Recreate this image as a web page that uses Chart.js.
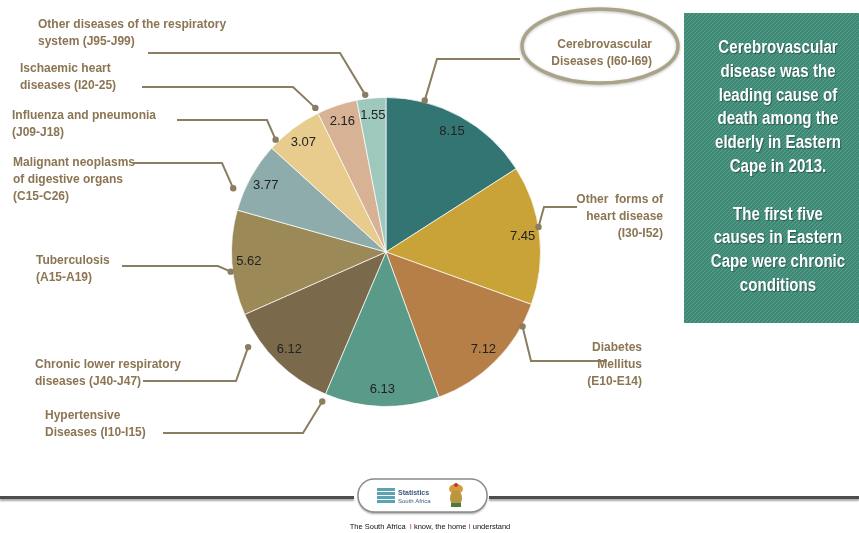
<!DOCTYPE html>
<html>
<head>
<meta charset="utf-8">
<script src="https://cdn.jsdelivr.net/npm/chart.js@4/dist/chart.umd.min.js"></script>
<style>
  html, body { margin: 0; padding: 0; background: #ffffff; }
  #wrap { position: relative; width: 859px; height: 533px; }
</style>
</head>
<body>
<div id="wrap"><canvas id="causesPie" width="859" height="533"></canvas></div>
<script>
// Leading causes of death among the elderly, Eastern Cape 2013 (%)
const causes = [
  'Cerebrovascular Diseases (I60-I69)',
  'Other forms of heart disease (I30-I52)',
  'Diabetes Mellitus (E10-E14)',
  'Hypertensive Diseases (I10-I15)',
  'Chronic lower respiratory diseases (J40-J47)',
  'Tuberculosis (A15-A19)',
  'Malignant neoplasms of digestive organs (C15-C26)',
  'Influenza and pneumonia (J09-J18)',
  'Ischaemic heart diseases (I20-25)',
  'Other diseases of the respiratory system (J95-J99)'
];
const shares = [8.15, 7.45, 7.12, 6.13, 6.12, 5.62, 3.77, 3.07, 2.16, 1.55];

const sliceColors = ['#337573', '#c9a338', '#b57f47', '#5a9a89', '#7a6a4b',
                     '#9b8a58', '#8eacab', '#e7cc8d', '#d7b294', '#9fc8bd'];

// label text blocks, one per slice
const labelLines = [
  ['Cerebrovascular', 'Diseases (I60-I69)'],
  ['Other  forms of', 'heart disease', '(I30-I52)'],
  ['Diabetes', 'Mellitus', '(E10-E14)'],
  ['Hypertensive', 'Diseases (I10-I15)'],
  ['Chronic lower respiratory', 'diseases (J40-J47)'],
  ['Tuberculosis', '(A15-A19)'],
  ['Malignant neoplasms', 'of digestive organs', '(C15-C26)'],
  ['Influenza and pneumonia', '(J09-J18)'],
  ['Ischaemic heart', 'diseases (I20-25)'],
  ['Other diseases of the respiratory', 'system (J95-J99)']
];

// where each label sits and how its leader line runs to the slice
// at = fraction along the slice's arc, out = px beyond the rim
const labelLayout = [
  { x: 652, y: 45,  align: 'right', at: 0.25,  out: 2,  elbow: [437, 59],  end: [520, 59] },
  { x: 663, y: 200, align: 'right', at: 0.445, out: 0,  elbow: [544, 207], end: [577, 207] },
  { x: 642, y: 348, align: 'right', at: 0.175, out: 1,  elbow: [531, 361], end: [607, 361] },
  { x: 45,  y: 416, align: 'left',  at: 1.0,   out: 8,  elbow: [303, 433], end: [163, 433] },
  { x: 35,  y: 365, align: 'left',  at: 0.75,  out: 13, elbow: [236, 381], end: [143, 381] },
  { x: 36,  y: 261, align: 'left',  at: 0.42,  out: 2,  elbow: [218, 266], end: [122, 266] },
  { x: 13,  y: 163, align: 'left',  at: 0.26,  out: 11, elbow: [222, 163], end: [133, 163] },
  { x: 12,  y: 116, align: 'left',  at: 0.15,  out: 3,  elbow: [267, 120], end: [177, 120] },
  { x: 20,  y: 69,  align: 'left',  at: 0.0,   out: 6,  elbow: [293, 87],  end: [142, 87] },
  { x: 38,  y: 25,  align: 'left',  at: 0.31,  out: 4,  elbow: [340, 53],  end: [148, 53] }
];

const boxLines = ['Cerebrovascular', 'disease was the', 'leading cause of', 'death among the',
                  'elderly in Eastern', 'Cape in 2013.', '', 'The first five',
                  'causes in Eastern', 'Cape were chronic', 'conditions'];

function stripePattern(ctx) {
  const tile = document.createElement('canvas');
  tile.width = 4; tile.height = 4;
  const t = tile.getContext('2d');
  t.fillStyle = '#3e8976';
  t.fillRect(0, 0, 4, 4);
  t.fillStyle = '#5aa08d';
  for (let i = 0; i < 4; i++) t.fillRect(i, 3 - i, 1, 1);
  return ctx.createPattern(tile, 'repeat');
}

const decorations = {
  id: 'decorations',
  afterDatasetsDraw(chart) {
    const ctx = chart.ctx;
    const arcs = chart.getDatasetMeta(0).data;

    // values inside the slices
    ctx.save();
    ctx.font = '13px "Liberation Sans", Arial, sans-serif';
    ctx.textAlign = 'center';
    ctx.textBaseline = 'middle';
    ctx.fillStyle = '#222222';
    arcs.forEach((arc, i) => {
      const p = arc.getProps(['x', 'y', 'startAngle', 'endAngle', 'outerRadius'], true);
      const mid = (p.startAngle + p.endAngle) / 2;
      const r = p.outerRadius * 0.89;
      ctx.fillText(shares[i].toFixed(2), p.x + Math.cos(mid) * r, p.y + Math.sin(mid) * r);
    });
    ctx.restore();

    // leader lines
    ctx.save();
    ctx.strokeStyle = '#8a7d60';
    ctx.fillStyle = '#8a7d60';
    ctx.lineWidth = 2;
    arcs.forEach((arc, i) => {
      const p = arc.getProps(['x', 'y', 'startAngle', 'endAngle', 'outerRadius'], true);
      const L = labelLayout[i];
      const a = p.startAngle + (p.endAngle - p.startAngle) * L.at;
      const rr = p.outerRadius + L.out;
      const dx = p.x + Math.cos(a) * rr, dy = p.y + Math.sin(a) * rr;
      ctx.beginPath();
      ctx.moveTo(dx, dy);
      ctx.lineTo(L.elbow[0], L.elbow[1]);
      ctx.lineTo(L.end[0], L.end[1]);
      ctx.stroke();
      ctx.beginPath();
      ctx.arc(dx, dy, 3.2, 0, Math.PI * 2);
      ctx.fill();
    });
    ctx.restore();

    // ellipse round the leading cause
    ctx.save();
    ctx.shadowColor = 'rgba(0,0,0,0.25)';
    ctx.shadowBlur = 3;
    ctx.shadowOffsetY = 1;
    ctx.strokeStyle = '#aaa389';
    ctx.lineWidth = 3.5;
    ctx.beginPath();
    ctx.ellipse(600, 46, 78, 37, 0, 0, Math.PI * 2);
    ctx.stroke();
    ctx.restore();

    // label text
    ctx.save();
    ctx.font = 'bold 12px "Liberation Sans", Arial, sans-serif';
    ctx.textBaseline = 'middle';
    ctx.fillStyle = '#8b7553';
    labelLines.forEach((lines, i) => {
      const L = labelLayout[i];
      ctx.textAlign = L.align;
      lines.forEach((s, k) => ctx.fillText(s, L.x, L.y + k * 17));
    });
    ctx.restore();

    // side note box
    ctx.save();
    ctx.fillStyle = stripePattern(ctx);
    ctx.fillRect(684, 13, 175, 310);
    ctx.font = 'bold 18px "Liberation Sans", Arial, sans-serif';
    ctx.textAlign = 'center';
    ctx.textBaseline = 'middle';
    ctx.fillStyle = '#ffffff';
    ctx.shadowColor = 'rgba(0,0,0,0.35)';
    ctx.shadowBlur = 1;
    ctx.shadowOffsetX = 1;
    ctx.shadowOffsetY = 1;
    boxLines.forEach((s, k) => {
      if (!s) return;
      ctx.save();
      ctx.translate(778, 48 + k * 23.8);
      ctx.scale(0.84, 1);
      ctx.fillText(s, 0, 0);
      ctx.restore();
    });
    ctx.restore();

    // footer rule and logo pill
    ctx.save();
    ctx.shadowColor = 'rgba(0,0,0,0.35)';
    ctx.shadowBlur = 2;
    ctx.shadowOffsetY = 2;
    ctx.fillStyle = '#4d4d4d';
    ctx.fillRect(0, 496, 354, 3);
    ctx.fillRect(489, 496, 370, 3);
    ctx.fillStyle = '#ffffff';
    ctx.strokeStyle = '#8a8a8a';
    ctx.lineWidth = 1.5;
    ctx.beginPath();
    ctx.roundRect(358, 479, 129, 33, 16);
    ctx.fill();
    ctx.shadowColor = 'transparent';
    ctx.stroke();
    ctx.restore();

    ctx.save();
    ctx.fillStyle = '#5aa3b4';
    ctx.fillRect(377, 488, 18, 16);
    ctx.fillStyle = '#ffffff';
    for (let k = 0; k < 4; k++) ctx.fillRect(377, 491 + k * 4, 18, 1);
    ctx.fillStyle = '#3c5a78';
    ctx.font = 'bold 7px "Liberation Sans", Arial, sans-serif';
    ctx.textBaseline = 'middle';
    ctx.fillText('Statistics', 398, 493);
    ctx.font = '6px "Liberation Sans", Arial, sans-serif';
    ctx.fillText('South Africa', 398, 501);
    // coat of arms
    ctx.fillStyle = '#d89a3a';
    ctx.beginPath(); ctx.ellipse(456, 489, 7, 5, 0, 0, Math.PI * 2); ctx.fill();
    ctx.fillStyle = '#b9963f';
    ctx.beginPath(); ctx.ellipse(456, 498, 6, 8, 0, 0, Math.PI * 2); ctx.fill();
    ctx.fillStyle = '#4e7a3c';
    ctx.fillRect(451, 503, 10, 4);
    ctx.fillStyle = '#c0392b';
    ctx.beginPath(); ctx.arc(456, 485, 2, 0, Math.PI * 2); ctx.fill();
    ctx.restore();

    // tagline
    ctx.save();
    ctx.font = '7.5px "Liberation Sans", Arial, sans-serif';
    ctx.textBaseline = 'middle';
    const parts = [['The South Africa  ', '#111'], ['I', '#c0392b'], [' know, the home ', '#111'],
                   ['I', '#c0392b'], [' understand', '#111']];
    const total = parts.reduce((w, s) => w + ctx.measureText(s[0]).width, 0);
    let x = 430 - total / 2;
    parts.forEach(([s, c]) => {
      ctx.fillStyle = c;
      ctx.fillText(s, x, 527);
      x += ctx.measureText(s).width;
    });
    ctx.restore();
  }
};

new Chart(document.getElementById('causesPie'), {
  type: 'pie',
  data: {
    labels: causes,
    datasets: [{
      data: shares,
      backgroundColor: sliceColors,
      borderColor: 'rgba(255,255,255,0.7)',
      borderWidth: 1,
      hoverOffset: 0,
      offset: 0
    }]
  },
  options: {
    responsive: false,
    animation: false,
    layout: { padding: { left: 231, right: 318, top: 97, bottom: 126 } },
    plugins: {
      legend: { display: false },
      tooltip: { enabled: false }
    }
  },
  plugins: [decorations]
});
</script>
</body>
</html>
